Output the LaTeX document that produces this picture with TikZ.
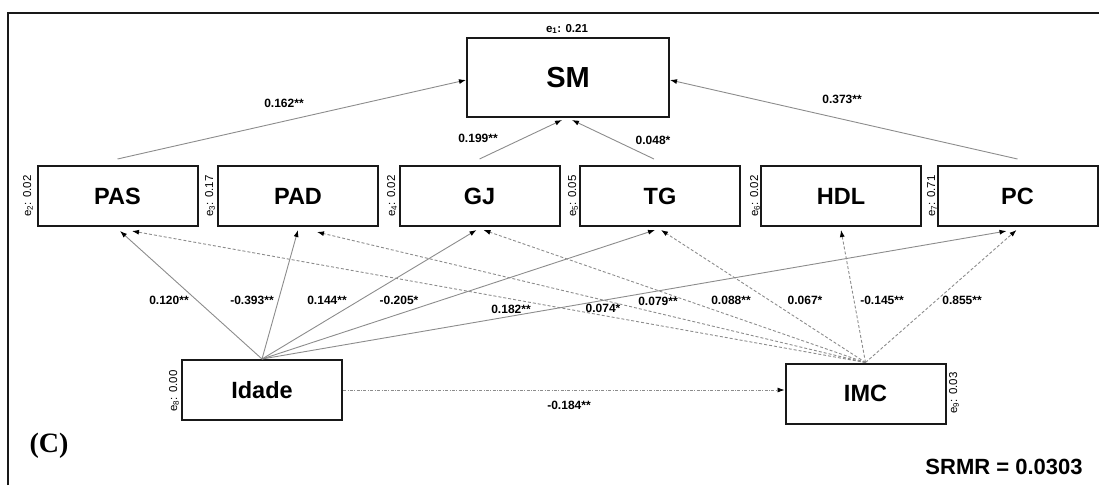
\documentclass[tikz,border=0pt]{standalone}
\usepackage{fontspec}
\setmainfont{Liberation Sans}
\newfontfamily\serifC{Liberation Serif}
\usetikzlibrary{arrows.meta}
\begin{document}
\begin{tikzpicture}[x=1pt,y=-1pt,
  box/.style={draw=black!90, line width=2pt, minimum width=160pt, minimum height=60pt, inner sep=0pt, font=\fontsize{23.5}{28}\selectfont\bfseries},
  lab/.style={font=\fontsize{12}{14}\selectfont\bfseries, inner sep=1pt},
  elab/.style={font=\fontsize{11.5}{13}\selectfont, rotate=90, inner sep=0pt},
  solidarrow/.style={draw=black!45, line width=0.9pt, -{Latex[length=7pt,width=5pt,color=black]}},
  dasharrow/.style={solidarrow, dash pattern=on 3pt off 2pt},
  dotarrow/.style={solidarrow, line width=0.7pt, dash pattern=on 3pt off 1.5pt on 0.8pt off 1.5pt}]
\useasboundingbox (0,0) rectangle (1099,485);
\draw[line width=2pt, black!90] (7.5,485) -- (7.5,12.5) -- (1099,12.5);

% nodes
\node[box, minimum width=202pt, minimum height=79pt, font=\fontsize{29}{34}\selectfont\bfseries] (SM) at (568,77.5) {SM};
\node[box] (PAS) at (117.5,196) {PAS};
\node[box] (PAD) at (298,196) {PAD};
\node[box] (GJ) at (479.5,196) {GJ};
\node[box] (TG) at (660,196) {TG};
\node[box] (HDL) at (841,196) {HDL};
\node[box] (PC) at (1017.5,196) {PC};
\node[box] (Idade) at (262,390) {Idade};
\node[box] (IMC) at (865.5,393.5) {IMC};

% error labels
\node[font=\fontsize{11.5}{13}\selectfont\bfseries, inner sep=0pt] (e1) at (567,29) {e\textsubscript{1}: 0.21};
\node[elab] (e2) at (28,196) {e\textsubscript{2}: 0.02};
\node[elab] (e3) at (210,196) {e\textsubscript{3}: 0.17};
\node[elab] (e4) at (392,196) {e\textsubscript{4}: 0.02};
\node[elab] (e5) at (573,196) {e\textsubscript{5}: 0.05};
\node[elab] (e6) at (755,196) {e\textsubscript{6}: 0.02};
\node[elab] (e7) at (932,196) {e\textsubscript{7}: 0.71};
\node[elab] (e8) at (174,391) {e\textsubscript{8}: 0.00};
\node[elab] (e9) at (954,393) {e\textsubscript{9}: 0.03};

% edges to SM
\draw[solidarrow] ([yshift=6pt]PAS.north) -- ([yshift=-2.5pt]SM.west);
\draw[solidarrow] ([yshift=6pt]PC.north) -- ([yshift=-2.5pt]SM.east);
\draw[solidarrow] ([yshift=6pt]GJ.north) -- ([xshift=-6pt,yshift=-2pt]SM.south);
\draw[solidarrow] ([xshift=-6pt,yshift=6pt]TG.north) -- ([xshift=4pt,yshift=-2pt]SM.south);

% edges from Idade
\draw[solidarrow] (Idade.north) -- ([xshift=2.5pt,yshift=-4pt]PAS.south);
\draw[solidarrow] (Idade.north) -- ([xshift=0pt,yshift=-3pt]PAD.south);
\draw[solidarrow] (Idade.north) -- ([xshift=-3pt,yshift=-3pt]GJ.south);
\draw[solidarrow] (Idade.north) -- ([xshift=-5pt,yshift=-3pt]TG.south);
\draw[solidarrow] (Idade.north) -- ([xshift=-11pt,yshift=-4pt]PC.south);

% edges from IMC
\draw[dasharrow] (IMC.north) -- ([xshift=14.5pt,yshift=-4pt]PAS.south);
\draw[dasharrow] (IMC.north) -- ([xshift=19pt,yshift=-5pt]PAD.south);
\draw[dasharrow] (IMC.north) -- ([xshift=4pt,yshift=-3pt]GJ.south);
\draw[dasharrow] (IMC.north) -- ([xshift=1pt,yshift=-3pt]TG.south);
\draw[dasharrow] (IMC.north) -- ([yshift=-3pt]HDL.south);
\draw[dasharrow] (IMC.north) -- ([xshift=-1pt,yshift=-3pt]PC.south);

% Idade -> IMC
\draw[dotarrow] (Idade.east) -- (Idade.east -| IMC.west);

% coefficient labels
\node[lab] (l1) at (284,103) {0.162**};
\node[lab] (l2) at (478,138) {0.199**};
\node[lab] (l3) at (653,140) {0.048*};
\node[lab] (l4) at (842,99) {0.373**};
\node[lab] (l5) at (169,300) {0.120**};
\node[lab] (l6) at (252,300) {-0.393**};
\node[lab] (l7) at (327,300) {0.144**};
\node[lab] (l8) at (399,300) {-0.205*};
\node[lab] (l9) at (511,309) {0.182**};
\node[lab] (l10) at (603,308) {0.074*};
\node[lab] (l11) at (658,301) {0.079**};
\node[lab] (l12) at (731,300) {0.088**};
\node[lab] (l13) at (805,300) {0.067*};
\node[lab] (l14) at (882,300) {-0.145**};
\node[lab] (l15) at (962,300) {0.855**};
\node[lab] (l16) at (569,405) {-0.184**};

% panel tag and fit
\node[font=\serifC\bfseries\fontsize{28}{32}\selectfont, inner sep=0pt] (tagC) at (49,446) {(C)};
\node[font=\fontsize{22}{26}\selectfont\bfseries, inner sep=0pt] (srmr) at (1004,467) {SRMR = 0.0303};
\end{tikzpicture}
\end{document}
